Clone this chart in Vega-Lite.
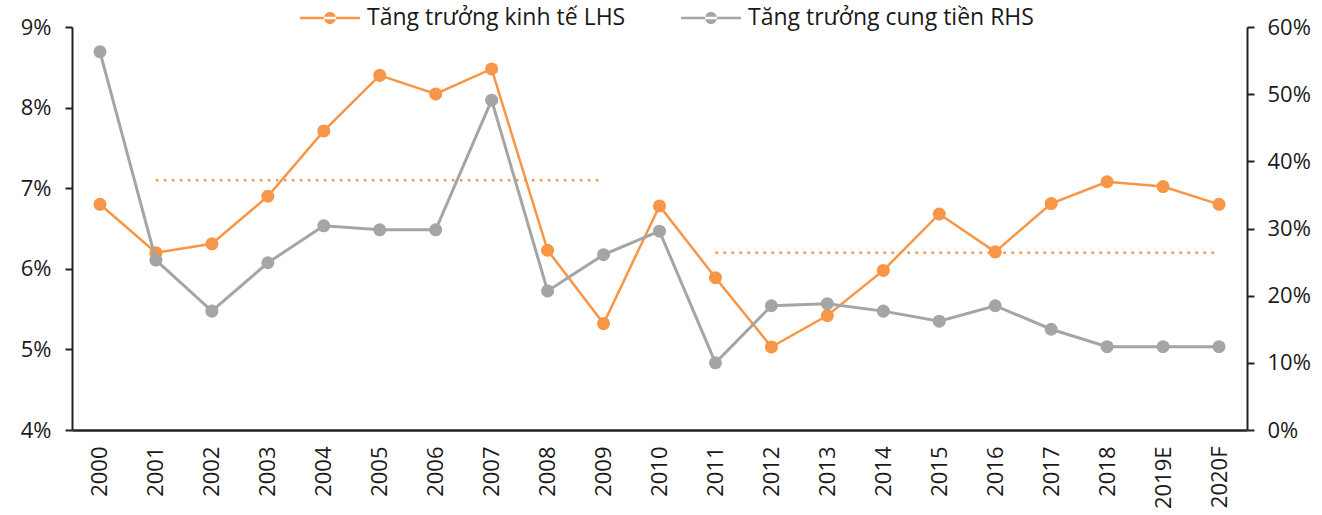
{
  "$schema": "https://vega.github.io/schema/vega-lite/v6.json",
  "width": 1175,
  "height": 403,
  "autosize": {"type": "none"},
  "padding": {"left": 72, "top": 27, "right": 75, "bottom": 85},
  "background": "white",
  "config": {
    "font": "Open Sans",
    "view": {"stroke": null},
    "axis": {"grid": false, "domainColor": "#222222", "domainWidth": 2, "tickColor": "#222222", "tickWidth": 2, "labelColor": "#1a1a1a", "labelFont": "Open Sans", "title": null}
  },
  "datasets": {
    "gdp": [
      {"year": "2000", "v": 6.80, "series": "Tăng trưởng kinh tế LHS"},
      {"year": "2001", "v": 6.20, "series": "Tăng trưởng kinh tế LHS"},
      {"year": "2002", "v": 6.31, "series": "Tăng trưởng kinh tế LHS"},
      {"year": "2003", "v": 6.90, "series": "Tăng trưởng kinh tế LHS"},
      {"year": "2004", "v": 7.71, "series": "Tăng trưởng kinh tế LHS"},
      {"year": "2005", "v": 8.40, "series": "Tăng trưởng kinh tế LHS"},
      {"year": "2006", "v": 8.17, "series": "Tăng trưởng kinh tế LHS"},
      {"year": "2007", "v": 8.48, "series": "Tăng trưởng kinh tế LHS"},
      {"year": "2008", "v": 6.23, "series": "Tăng trưởng kinh tế LHS"},
      {"year": "2009", "v": 5.32, "series": "Tăng trưởng kinh tế LHS"},
      {"year": "2010", "v": 6.78, "series": "Tăng trưởng kinh tế LHS"},
      {"year": "2011", "v": 5.89, "series": "Tăng trưởng kinh tế LHS"},
      {"year": "2012", "v": 5.03, "series": "Tăng trưởng kinh tế LHS"},
      {"year": "2013", "v": 5.42, "series": "Tăng trưởng kinh tế LHS"},
      {"year": "2014", "v": 5.98, "series": "Tăng trưởng kinh tế LHS"},
      {"year": "2015", "v": 6.68, "series": "Tăng trưởng kinh tế LHS"},
      {"year": "2016", "v": 6.21, "series": "Tăng trưởng kinh tế LHS"},
      {"year": "2017", "v": 6.81, "series": "Tăng trưởng kinh tế LHS"},
      {"year": "2018", "v": 7.08, "series": "Tăng trưởng kinh tế LHS"},
      {"year": "2019E", "v": 7.02, "series": "Tăng trưởng kinh tế LHS"},
      {"year": "2020F", "v": 6.80, "series": "Tăng trưởng kinh tế LHS"}
    ],
    "m2": [
      {"year": "2000", "v": 56.3, "series": "Tăng trưởng cung tiền RHS"},
      {"year": "2001", "v": 25.3, "series": "Tăng trưởng cung tiền RHS"},
      {"year": "2002", "v": 17.7, "series": "Tăng trưởng cung tiền RHS"},
      {"year": "2003", "v": 24.9, "series": "Tăng trưởng cung tiền RHS"},
      {"year": "2004", "v": 30.4, "series": "Tăng trưởng cung tiền RHS"},
      {"year": "2005", "v": 29.8, "series": "Tăng trưởng cung tiền RHS"},
      {"year": "2006", "v": 29.8, "series": "Tăng trưởng cung tiền RHS"},
      {"year": "2007", "v": 49.1, "series": "Tăng trưởng cung tiền RHS"},
      {"year": "2008", "v": 20.7, "series": "Tăng trưởng cung tiền RHS"},
      {"year": "2009", "v": 26.1, "series": "Tăng trưởng cung tiền RHS"},
      {"year": "2010", "v": 29.6, "series": "Tăng trưởng cung tiền RHS"},
      {"year": "2011", "v": 10.0, "series": "Tăng trưởng cung tiền RHS"},
      {"year": "2012", "v": 18.5, "series": "Tăng trưởng cung tiền RHS"},
      {"year": "2013", "v": 18.8, "series": "Tăng trưởng cung tiền RHS"},
      {"year": "2014", "v": 17.7, "series": "Tăng trưởng cung tiền RHS"},
      {"year": "2015", "v": 16.2, "series": "Tăng trưởng cung tiền RHS"},
      {"year": "2016", "v": 18.5, "series": "Tăng trưởng cung tiền RHS"},
      {"year": "2017", "v": 15.0, "series": "Tăng trưởng cung tiền RHS"},
      {"year": "2018", "v": 12.4, "series": "Tăng trưởng cung tiền RHS"},
      {"year": "2019E", "v": 12.4, "series": "Tăng trưởng cung tiền RHS"},
      {"year": "2020F", "v": 12.4, "series": "Tăng trưởng cung tiền RHS"}
    ],
    "avg": [
      {"start": "2001", "end": "2009", "v": 7.1},
      {"start": "2011", "end": "2020F", "v": 6.2}
    ]
  },
  "encoding": {
    "x": {
      "field": "year", "type": "nominal", "sort": null,
      "scale": {"type": "point", "padding": 0.5, "domain": ["2000","2001","2002","2003","2004","2005","2006","2007","2008","2009","2010","2011","2012","2013","2014","2015","2016","2017","2018","2019E","2020F"]},
      "axis": {"labelAngle": -90, "labelFontSize": 22, "ticks": false, "labelPadding": 16, "domainWidth": 2.5, "labelAlign": "right", "labelBaseline": "middle"}
    }
  },
  "layer": [
    {
      "layer": [
        {
          "data": {"name": "avg"},
          "mark": {"type": "rule", "color": "#F79646", "strokeWidth": 2.5, "strokeDash": [2.5, 5.5]},
          "encoding": {
            "x": {"field": "start", "type": "nominal"},
            "x2": {"field": "end"},
            "y": {"field": "v", "type": "quantitative"}
          }
        },
        {
          "data": {"name": "gdp"},
          "mark": {"type": "line", "strokeWidth": 2.5},
          "encoding": {
            "y": {"field": "v", "type": "quantitative", "scale": {"domain": [4, 9], "nice": false, "zero": false},
              "axis": {"orient": "left", "values": [4,5,6,7,8,9], "labelExpr": "datum.value + '%'", "labelFontSize": 22, "tickSize": 7, "labelPadding": 14}},
            "color": {"field": "series", "type": "nominal",
              "scale": {"domain": ["Tăng trưởng kinh tế LHS", "Tăng trưởng cung tiền RHS"], "range": ["#F79646", "#A5A5A5"]},
              "legend": {
                "orient": "none", "legendX": 228, "legendY": -39, "direction": "horizontal", "title": null,
                "symbolType": "M-1,-0.045H1V0.045H-1Z M-0.2,0A0.2,0.2 0 1,0 0.2,0A0.2,0.2 0 1,0 -0.2,0Z",
                "symbolSize": 3600, "symbolStrokeWidth": 0, "labelFontSize": 23, "labelLimit": 600, "labelColor": "#1a1a1a", "labelOffset": 7, "columnPadding": 55,
                "encode": {"symbols": {"update": {"fill": {"scale": "color", "field": "value"}, "strokeWidth": {"value": 0}, "opacity": {"value": 1}}}}
              }
            }
          }
        },
        {
          "data": {"name": "gdp"},
          "mark": {"type": "point", "filled": true, "size": 170, "opacity": 1},
          "encoding": {
            "y": {"field": "v", "type": "quantitative"},
            "color": {"field": "series", "type": "nominal", "legend": null}
          }
        }
      ]
    },
    {
      "layer": [
        {
          "data": {"name": "m2"},
          "mark": {"type": "line", "strokeWidth": 3},
          "encoding": {
            "y": {"field": "v", "type": "quantitative", "scale": {"domain": [0, 60], "nice": false},
              "axis": {"orient": "right", "values": [0,10,20,30,40,50,60], "labelExpr": "datum.value + '%'", "labelFontSize": 22, "tickSize": 7, "labelPadding": 13}},
            "color": {"field": "series", "type": "nominal"}
          }
        },
        {
          "data": {"name": "m2"},
          "mark": {"type": "point", "filled": true, "size": 170, "opacity": 1},
          "encoding": {
            "y": {"field": "v", "type": "quantitative"},
            "color": {"field": "series", "type": "nominal", "legend": null}
          }
        }
      ]
    }
  ],
  "resolve": {"scale": {"y": "independent"}}
}
